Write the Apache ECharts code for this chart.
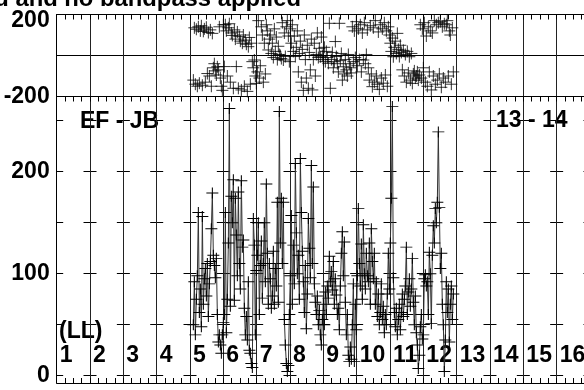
<!DOCTYPE html>
<html>
<head>
<meta charset="utf-8">
<script src="https://cdn.jsdelivr.net/npm/echarts@6/dist/echarts.min.js"></script>
<style>
html, body { margin: 0; padding: 0; background: #fff; }
#chart { width: 584px; height: 390px; }
</style>
</head>
<body>
<div id="chart"></div>
<script>
// time of each scan (LL hours), one line per hour block
var hours = [
  5.10,5.13,5.16,5.19,5.22,5.25,5.28,5.31,5.34,5.37,5.40,5.43,5.46,5.49,5.52,5.55,5.58,5.61,5.64,5.67,5.70,5.73,5.76,5.79,5.82,5.85,5.88,5.91,5.94,5.97,6.00,
  6.03,6.06,6.09,6.12,6.15,6.18,6.21,6.24,6.27,6.30,6.33,6.36,6.39,6.42,6.45,6.48,6.51,6.54,6.57,6.60,6.63,6.66,6.69,6.72,6.75,6.78,6.81,6.84,6.87,6.90,6.93,6.96,6.99,
  7.02,7.05,7.08,7.11,7.14,7.17,7.20,7.23,7.26,7.29,7.32,7.35,7.38,7.41,7.44,7.47,7.50,7.53,7.56,7.59,7.62,7.65,7.68,7.71,7.74,7.77,7.80,7.83,7.86,7.89,7.92,7.95,7.98,
  8.01,8.04,8.07,8.10,8.13,8.16,8.19,8.22,8.25,8.28,8.31,8.34,8.37,8.40,8.43,8.46,8.49,8.52,8.55,8.58,8.61,8.64,8.67,8.70,8.73,8.76,8.79,8.82,8.85,8.88,8.91,8.94,8.97,
  9.00,9.03,9.06,9.09,9.12,9.15,9.18,9.21,9.24,9.27,9.30,9.33,9.36,9.39,9.42,9.45,9.48,9.51,9.54,9.57,9.60,9.63,9.66,9.69,9.72,9.75,9.78,9.81,9.84,9.87,9.90,9.93,9.96,
  9.99,10.02,10.05,10.08,10.11,10.14,10.17,10.20,10.23,10.26,10.29,10.32,10.35,10.38,10.41,10.44,10.47,10.50,10.53,10.56,10.59,10.62,10.65,10.68,10.71,10.74,10.77,10.80,10.83,10.86,10.89,10.92,10.95,
  10.98,11.01,11.04,11.07,11.10,11.13,11.16,11.19,11.22,11.25,11.28,11.31,11.34,11.37,11.40,11.43,11.46,11.49,11.52,11.55,11.58,11.61,11.64,11.67,11.70,11.73,11.76,11.79,11.82,11.85,11.88,11.91,11.94,
  11.97,12.00,12.03,12.06,12.09,12.12,12.15,12.18,12.21,12.24,12.27,12.30,12.33,12.36,12.39,12.42,12.45,12.48,12.51,12.54,12.57,12.60,12.63,12.66,12.69,12.72,12.75,12.78,12.81,12.84,12.87,12.90
];
// amplitude (lower panel)
var amplitude = [
  50,92,40,75,98,160,62,85,48,156,70,95,105,78,110,58,90,112,144,179,118,108,96,115,60,33,40,30,22,40,52,
  60,160,42,75,130,262,68,176,150,192,74,174,138,98,180,110,85,191,126,133,66,40,58,35,92,25,22,12,8,154,128,40,103,
  118,150,60,108,132,76,110,150,92,188,120,70,110,95,66,78,122,70,105,88,170,72,259,130,174,110,170,55,30,12,4,10,60,
  98,157,70,128,90,208,140,100,118,75,213,160,122,92,62,108,46,80,154,125,96,206,110,185,90,72,60,78,50,64,40,30,55,
  70,50,82,60,88,76,117,92,102,84,112,70,95,79,60,66,45,88,120,141,98,131,72,40,60,20,14,28,16,50,90,14,70,
  45,98,164,110,88,129,75,148,100,85,120,98,92,130,70,144,112,95,120,70,92,58,80,50,62,90,55,68,42,60,50,80,120,
  85,130,174,264,96,62,48,66,40,55,70,45,62,80,58,75,88,126,60,82,95,68,85,115,72,50,78,42,30,7,20,48,60,
  36,40,95,99,88,92,60,121,100,51,118,147,130,164,150,170,239,165,105,120,70,50,4,35,92,62,85,33,70,88,55,80
];
// phase in degrees (upper panel)
var phase = [
  -120,135,-140,128,-150,140,-135,120,145,-145,118,130,-130,138,-88,112,-100,125,-150,108,-60,-40,-75,-95,-55,-70,140,-110,-150,-170,150,
  -54,150,120,-100,135,155,-130,110,98,-160,125,80,-54,115,-160,92,70,-168,60,100,-150,75,55,-175,43,88,-140,60,-30,-60,-22,-100,-136,
  -80,170,-110,-50,140,100,-130,60,-90,150,120,27,80,100,10,60,-10,130,20,90,-20,45,5,0,-15,160,-22,110,-5,140,170,95,-30,
  130,60,150,20,95,-5,40,120,-80,10,70,-130,30,-170,100,-20,-110,50,-160,15,-70,80,-168,-20,60,-100,5,110,-10,35,-6,90,0,
  -20,40,-30,20,-10,-38,157,-160,-20,15,-60,-30,68,-5,-40,-80,157,-25,10,-120,-55,-90,-20,-70,-100,5,-40,-60,-85,140,-30,120,-10,
  165,-50,130,-20,150,-80,110,-22,160,-40,5,125,-60,-120,145,-90,-152,135,-130,170,-100,-140,115,-165,150,-110,130,-135,160,-95,120,-150,140,
  100,60,20,85,-6,40,70,10,108,30,-5,50,15,-70,25,-100,5,-130,20,-85,-6,-120,10,-136,-90,-75,-110,-100,-80,-120,-95,150,-110,
  130,-60,160,-130,95,-150,140,-80,120,-168,110,-100,170,-140,150,-120,160,-90,165,-155,140,-110,155,-130,150,170,-100,120,100,-140,135,-80
];
var hourTicks = [1, 17];          // axis range, one grid line per hour
var lastHourLabel = 16;
var phaseRange = [-200, 200];
var ampRange = [-7.2, 273.7];
var ampLabels = [0, 100, 200];
var ampTicks = [0, 50, 100, 150, 200, 250];

var FONT = '"Liberation Sans", Arial, sans-serif';
var CROSS = 'path://M0,6H12M6,0V12';

var ampData = hours.map(function (h, i) { return [h, amplitude[i]]; });
var phaseData = hours.map(function (h, i) { return [h, phase[i]]; });

var chart = echarts.init(document.getElementById('chart'), null, { renderer: 'canvas' });

var bigText = { color: '#000', fontSize: 23, fontWeight: 'bold', fontFamily: FONT };
var blackLine = { show: true, onZero: false, lineStyle: { color: '#000', width: 1 } };

function hourAxis(grid, pos, labels) {
  return {
    gridIndex: grid,
    type: 'value',
    position: pos,
    min: hourTicks[0],
    max: hourTicks[1],
    interval: 1,
    axisLine: blackLine,
    axisTick: { show: true, inside: true, length: 5, lineStyle: { color: '#000' } },
    minorTick: { show: true, splitNumber: 4, length: 5, lineStyle: { color: '#000' } },
    axisLabel: labels ? Object.assign({
      show: true,
      inside: true,
      align: 'left',
      margin: 16,
      padding: [0, 0, 0, 3],
      formatter: function (v) { return v <= lastHourLabel ? String(v) : ''; }
    }, bigText) : { show: false },
    splitLine: { show: true, lineStyle: { color: '#222', width: 1 } }
  };
}

var option = {
  animation: false,
  backgroundColor: '#fff',
  grid: [
    { left: 56.7, top: 14.5, width: 533.3, height: 82, outerBoundsMode: 'none' },
    { left: 56.7, top: 96.5, width: 533.3, height: 286.5, outerBoundsMode: 'none' }
  ],
  xAxis: [
    hourAxis(0, 'top', false),
    hourAxis(1, 'top', false),
    hourAxis(1, 'bottom', true)
  ],
  yAxis: [
    {
      gridIndex: 0,
      type: 'value',
      min: phaseRange[0],
      max: phaseRange[1],
      interval: 200,
      axisLine: blackLine,
      axisTick: { show: false },
      axisLabel: Object.assign({
        margin: 7,
        formatter: function (v) {
          if (v === 0) return '';
          return v > 0 ? '{lo|' + v + '}' : String(v);
        },
        rich: { lo: Object.assign({ padding: [12, 0, 0, 0] }, bigText) }
      }, bigText),
      splitLine: { show: true, lineStyle: { color: '#000', width: 1 } }
    },
    {
      gridIndex: 1,
      type: 'value',
      min: ampRange[0],
      max: ampRange[1],
      axisLine: blackLine,
      axisTick: { show: false, customValues: ampTicks },
      axisLabel: Object.assign({ margin: 7, customValues: ampLabels }, bigText),
      splitLine: {
        show: true,
        lineStyle: { color: '#000', width: 1, type: [13, 20.33], dashOffset: 6.5 }
      }
    }
  ],
  graphic: [
    { type: 'text', x: 301, y: -1, style: { text: 'Data calibrated and no bandpass applied', align: 'right', verticalAlign: 'middle', fill: '#000', font: 'bold 23.8px ' + FONT } },
    { type: 'text', x: 80, y: 122, style: { text: 'EF - JB', align: 'left', verticalAlign: 'middle', fill: '#000', font: 'bold 23px ' + FONT } },
    { type: 'text', x: 496, y: 121, style: { text: '13 - 14', align: 'left', verticalAlign: 'middle', fill: '#000', font: 'bold 23px ' + FONT } },
    { type: 'text', x: 59, y: 332, style: { text: '(LL)', align: 'left', verticalAlign: 'middle', fill: '#000', font: 'bold 23px ' + FONT } }
  ],
  series: [
    {
      type: 'scatter',
      xAxisIndex: 0,
      yAxisIndex: 0,
      data: phaseData,
      symbol: CROSS,
      symbolSize: [12, 12],
      itemStyle: { color: 'none', borderColor: '#000', borderWidth: 1 },
      silent: true
    },
    {
      type: 'line',
      xAxisIndex: 2,
      yAxisIndex: 1,
      data: ampData,
      symbol: CROSS,
      symbolSize: [12, 11],
      showAllSymbol: true,
      lineStyle: { color: '#333', width: 1 },
      itemStyle: { color: 'none', borderColor: '#000', borderWidth: 1 },
      silent: true
    }
  ]
};

chart.setOption(option);
</script>
</body>
</html>
